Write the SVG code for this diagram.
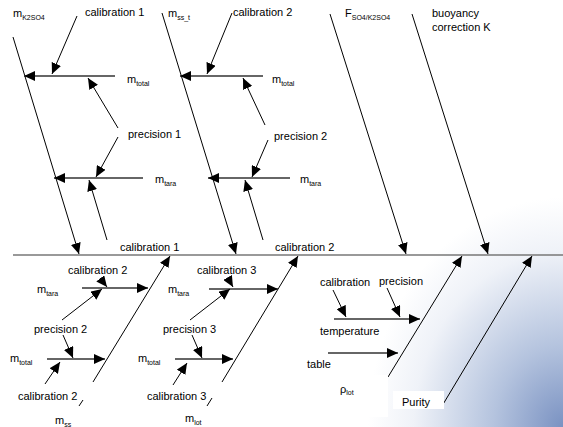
<svg xmlns="http://www.w3.org/2000/svg" width="563" height="427" viewBox="0 0 563 427">
<style>
text{font-family:"Liberation Sans",Arial,sans-serif;font-size:11px;fill:#000}
.sub{font-size:7px}
.d{stroke:#000;stroke-width:1;fill:none}
.h{stroke:#333;stroke-width:1.4;fill:none}
.a{marker-end:url(#ah)}
</style>
<defs>
<marker id="ah" markerUnits="userSpaceOnUse" markerWidth="12" markerHeight="10" viewBox="0 0 12 10" refX="11" refY="5" orient="auto">
<path d="M0,0 L11,5 L0,10 Z" fill="#000"/>
</marker>
<radialGradient id="bg" gradientUnits="userSpaceOnUse" cx="563" cy="427" r="270" gradientTransform="translate(563 427) scale(0.85 1) translate(-563 -427)">
<stop offset="0" stop-color="#7a92c2"/>
<stop offset="0.3" stop-color="#b4c3de"/>
<stop offset="0.65" stop-color="#eff2f8"/>
<stop offset="0.85" stop-color="#ffffff"/>
</radialGradient>
</defs>
<rect x="0" y="0" width="563" height="427" fill="url(#bg)"/>

<g id="connectors">
<path d="M13,255 H563" stroke="#777" stroke-width="1.6" fill="none"/>
<path class="d a" d="M13,37 L79,254"/>
<path class="h a" d="M115,76 L24,76"/>
<path class="d a" d="M77,16 L52,74"/>
<path class="d a" d="M118,128 L88,78"/>
<path class="h a" d="M143,178 L54,178"/>
<path class="d a" d="M118,137 L96,177"/>
<path class="d a" d="M107,240 L89,180"/>
<path class="d a" d="M162,13 L236,254"/>
<path class="h a" d="M263,76 L180,76"/>
<path class="d a" d="M232,13 L207,74"/>
<path class="d a" d="M265,125 L243,78"/>
<path class="h a" d="M290,178 L208,178"/>
<path class="d a" d="M268,140 L252,177"/>
<path class="d a" d="M263,240 L245,180"/>
<path class="d a" d="M330,14 L406,254"/>
<path class="d a" d="M412,14 L488,254"/>

<path class="d a" d="M93,382 L170,256"/>
<path class="d" d="M79,406 L83,400"/>
<path class="h a" d="M82,288 L148,288"/>
<path class="d a" d="M100,278 L107,287"/>
<path class="d a" d="M62,320 L102,289"/>
<path class="d a" d="M63,335 L73,358"/>
<path class="h a" d="M47,359 L105,359"/>
<path class="d a" d="M45,384 L60,362"/>

<path class="d a" d="M222,382 L298,256"/>
<path class="d" d="M207,406 L212,398"/>
<path class="h a" d="M209,289 L278,289"/>
<path class="d a" d="M229,280 L233,287"/>
<path class="d a" d="M190,320 L230,289"/>
<path class="d a" d="M192,335 L202,358"/>
<path class="h a" d="M175,359 L233,359"/>
<path class="d a" d="M173,385 L187,363"/>

<path class="d a" d="M388,377 L462,256"/>
<path class="d a" d="M333,290 L346,317"/>
<path class="d a" d="M387,288 L400,317"/>
<path class="h a" d="M334,319 L420,319"/>
<path class="h a" d="M328,353 L398,353"/>
<path class="d a" d="M442,406 L532,256"/>
</g>

<g id="n-mK2SO4"><text x="13" y="17">m<tspan class="sub" dy="3">K2SO4</tspan></text></g>
<g id="n-cal1-top"><text x="85" y="16">calibration 1</text></g>
<g id="n-mtotal1"><text x="127" y="83">m<tspan class="sub" dy="3">total</tspan></text></g>
<g id="n-prec1"><text x="128" y="138">precision 1</text></g>
<g id="n-mtara1"><text x="155" y="183">m<tspan class="sub" dy="3">tara</tspan></text></g>
<g id="n-cal1-spine"><text x="120" y="251">calibration 1</text></g>

<g id="n-msst"><text x="168" y="17">m<tspan class="sub" dy="3">ss_t</tspan></text></g>
<g id="n-cal2-top"><text x="233" y="16">calibration 2</text></g>
<g id="n-mtotal2"><text x="272" y="83">m<tspan class="sub" dy="3">total</tspan></text></g>
<g id="n-prec2"><text x="274" y="140">precision 2</text></g>
<g id="n-mtara2"><text x="300" y="183">m<tspan class="sub" dy="3">tara</tspan></text></g>
<g id="n-cal2-spine"><text x="275" y="251">calibration 2</text></g>

<g id="n-F"><text x="345" y="17">F<tspan class="sub" dy="3">SO4/K2SO4</tspan></text></g>
<g id="n-buoy"><text x="432" y="17">buoyancy</text><text x="432" y="31">correction K</text></g>

<g id="n-cal2-l1"><text x="68" y="274">calibration 2</text></g>
<g id="n-mtara-l1"><text x="37" y="293">m<tspan class="sub" dy="3">tara</tspan></text></g>
<g id="n-prec2-l"><text x="34" y="333">precision 2</text></g>
<g id="n-mtotal-l1"><text x="10" y="362">m<tspan class="sub" dy="3">total</tspan></text></g>
<g id="n-cal2-l2"><text x="18" y="400">calibration 2</text></g>
<g id="n-mss"><text x="55" y="424">m<tspan class="sub" dy="3">ss</tspan></text></g>

<g id="n-cal3-l1"><text x="197" y="274">calibration 3</text></g>
<g id="n-mtara-l2"><text x="168" y="293">m<tspan class="sub" dy="3">tara</tspan></text></g>
<g id="n-prec3"><text x="163" y="333">precision 3</text></g>
<g id="n-mtotal-l2"><text x="138" y="362">m<tspan class="sub" dy="3">total</tspan></text></g>
<g id="n-cal3-l2"><text x="147" y="400">calibration 3</text></g>
<g id="n-mlot"><text x="185" y="422">m<tspan class="sub" dy="3">lot</tspan></text></g>

<g id="n-cal"><text x="320" y="286">calibration</text></g>
<g id="n-prec"><text x="379" y="285">precision</text></g>
<g id="n-temp"><text x="320" y="335">temperature</text></g>
<g id="n-table"><text x="307" y="368">table</text></g>
<g id="n-rholot"><rect x="330" y="375" width="58" height="42" fill="#fff"/><text x="340" y="393">ρ<tspan class="sub" dy="2">lot</tspan></text></g>
<g id="n-purity"><rect x="393" y="391" width="51" height="18" fill="#fff"/><text x="402" y="406">Purity</text></g>
</svg>
